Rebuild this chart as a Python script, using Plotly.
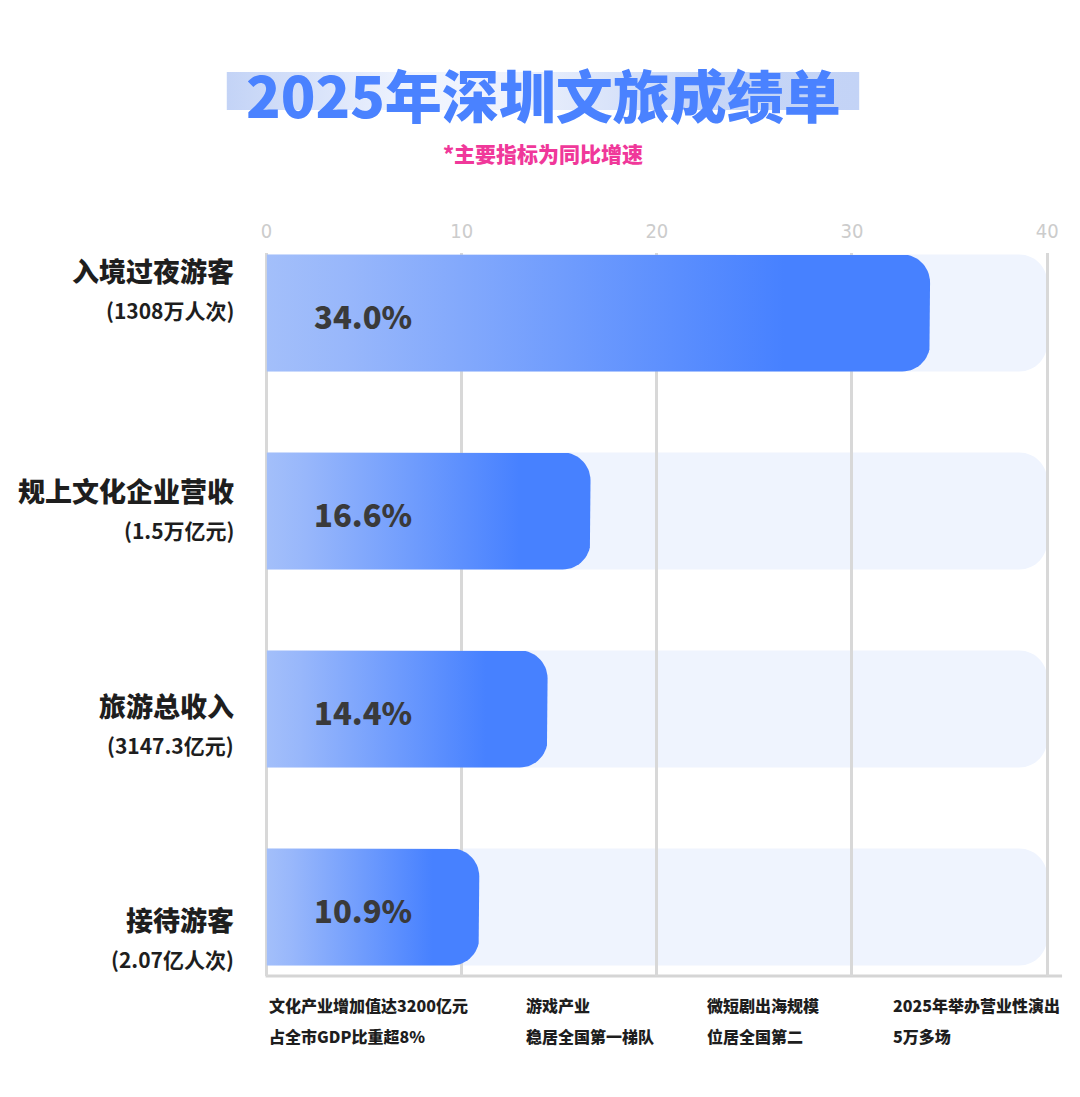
import numpy as np
import plotly.graph_objects as go

# ---------------- data ----------------
categories = ["入境过夜游客", "规上文化企业营收", "旅游总收入", "接待游客"]
sublabels = ["(1308万人次)", "(1.5万亿元)", "(3147.3亿元)", "(2.07亿人次)"]
values = [34.0, 16.6, 14.4, 10.9]
axis_max = 40
tick_vals = [0, 10, 20, 30, 40]
notes_line1 = ["文化产业增加值达3200亿元", "游戏产业", "微短剧出海规模", "2025年举办营业性演出"]
notes_line2 = ["占全市GDP比重超8%", "稳居全国第一梯队", "位居全国第二", "5万多场"]
title_text = "2025年深圳文旅成绩单"
subtitle_text = "*主要指标为同比增速"

# ---------------- layout constants (page pixels) ----------------
PAGE_W, PAGE_H = 1080, 1097
OFF = 8                                  # default body margin of the html page
W, H = PAGE_W - 2 * OFF, PAGE_H - 2 * OFF


def px(x):   # page x -> paper x
    return (x - OFF) / W


def py(y):   # page y -> paper y
    return 1 - (y - OFF) / H


PX_L, PX_R, PX_AX = 262, 1062, 1047     # plot left, plot right, position of axis_max
PY_T, PY_B = 253, 976                   # plot top / bottom
ROW = 198                               # row pitch
FIRST_C = 313                           # centre of first row
BAR_HALF_PX = 58.5
RADIUS_PX = 28

unit_x = (PX_AX - PX_L) / axis_max
xmax = (PX_R - PX_L) / unit_x
n = len(categories)
y_top = -(FIRST_C - PY_T) / ROW
y_bot = (n - 1) + (PY_B - (FIRST_C + (n - 1) * ROW)) / ROW
half = BAR_HALF_PX / ROW
rx = RADIUS_PX / unit_x
ry = RADIUS_PX / ROW

CJK = "Noto Sans CJK SC"
BLUE = "#4781FF"


def bar_points(v, yc):
    top, bot = yc - half, yc + half
    t = np.linspace(0, np.pi / 2, 16)
    xs = [0, v - rx]
    ys = [top, top]
    xs += list(v - rx + rx * np.sin(t))
    ys += list(top + ry - ry * np.cos(t))
    xs += list(v - rx + rx * np.cos(t))
    ys += list(bot - ry + ry * np.sin(t))
    xs += [0, 0]
    ys += [bot, top]
    return xs, ys


fig = go.Figure()

shapes = []
# background (track) bars as shapes below the gridlines
for i in range(n):
    xs, ys = bar_points(axis_max, i)
    path = "M " + " L ".join(f"{x:.4f},{y:.4f}" for x, y in zip(xs, ys)) + " Z"
    shapes.append(dict(type="path", xref="x", yref="y", path=path,
                       fillcolor="#EFF4FE", line=dict(width=0), layer="below"))

# bottom axis line
shapes.append(dict(type="line", xref="paper", yref="paper",
                   x0=px(PX_L - 1), x1=px(PX_R), y0=py(PY_B), y1=py(PY_B),
                   line=dict(color="#D5D5D5", width=3), layer="below"))

# gradient value bars
for i, v in enumerate(values):
    xs, ys = bar_points(v, i)
    fig.add_trace(go.Scatter(
        x=xs, y=ys, mode="lines", fill="toself",
        line=dict(width=0, color=BLUE),
        fillgradient=dict(type="horizontal",
                          colorscale=[[0, "#A3BFFA"], [0.12, "#98B7FB"],
                                      [0.78, BLUE], [1, BLUE]]),
        hoverinfo="skip", showlegend=False))

# title highlight band on a full-page overlay axis (page pixel coordinates)
bx0, bx1, by0, by1 = 222, 858, 72, 110
fig.add_trace(go.Scatter(
    x=[bx0, bx1, bx1, bx0, bx0], y=[by0, by0, by1, by1, by0],
    xaxis="x2", yaxis="y2", mode="lines", fill="toself",
    line=dict(width=0, color="#C3D3F6"),
    fillgradient=dict(type="horizontal",
                      colorscale=[[0, "#C3D3F6"], [0.3, "#F1F5FE"], [0.45, "#EEF2FD"],
                                  [0.75, "#C6D6F7"], [1, "#C3D3F6"]]),
    hoverinfo="skip", showlegend=False))

annotations = []
# title + subtitle
annotations.append(dict(text=title_text, xref="paper", yref="paper", x=px(541), y=py(93),
                        xanchor="center", yanchor="middle", showarrow=False,
                        font=dict(family=CJK, size=57, color="#4A82FF", weight=900)))
annotations.append(dict(text=subtitle_text, xref="paper", yref="paper", x=px(540), y=py(153),
                        xanchor="center", yanchor="middle", showarrow=False,
                        font=dict(family=CJK, size=21, color="#F0389A", weight=900)))

# category labels
label_shift = [-43, -21, -4, 12]
for i in range(n):
    annotations.append(dict(text=categories[i], xref="paper", yref="y", x=px(231), y=i,
                            xanchor="right", yanchor="middle", yshift=-label_shift[i],
                            showarrow=False,
                            font=dict(family=CJK, size=27, color="#1E1E1E", weight=900)))
    annotations.append(dict(text=sublabels[i], xref="paper", yref="y", x=px(231), y=i,
                            xanchor="right", yanchor="middle", yshift=-(label_shift[i] + 40),
                            showarrow=False,
                            font=dict(family=CJK, size=21, color="#1E1E1E", weight=700)))
    annotations.append(dict(text=f"{values[i]:.1f}%", xref="x", yref="y", x=4.95, y=i,
                            xanchor="center", yanchor="middle", yshift=-2, showarrow=False,
                            font=dict(family=CJK, size=31, color="#3A3A3A", weight=900)))

# footer notes
note_x = [262, 521, 703, 890]
for j in range(len(note_x)):
    annotations.append(dict(text=notes_line1[j], xref="paper", yref="paper", x=px(note_x[j]),
                            y=py(1005), xanchor="left", yanchor="middle", showarrow=False,
                            font=dict(family=CJK, size=16, color="#1E1E1E", weight=900)))
    annotations.append(dict(text=notes_line2[j], xref="paper", yref="paper", x=px(note_x[j]),
                            y=py(1036), xanchor="left", yanchor="middle", showarrow=False,
                            font=dict(family=CJK, size=16, color="#1E1E1E", weight=900)))

fig.update_layout(
    width=W, height=H,
    margin=dict(l=0, r=0, t=0, b=0),
    paper_bgcolor="white", plot_bgcolor="rgba(0,0,0,0)",
    showlegend=False,
    xaxis=dict(domain=[px(PX_L), px(PX_R)], range=[0, xmax], side="top",
               tickmode="array", tickvals=tick_vals, ticks="", ticklabelstandoff=10,
               tickfont=dict(family="DejaVu Sans Condensed, Roboto, sans-serif", size=20, color="#CCCCCC"),
               showgrid=True, gridcolor="#D8D8D8", gridwidth=3,
               zeroline=True, zerolinecolor="#D8D8D8", zerolinewidth=3,
               showline=False, fixedrange=True, anchor="y"),
    yaxis=dict(domain=[py(PY_B), py(PY_T)], range=[y_bot, y_top],
               visible=False, showgrid=False, zeroline=False, fixedrange=True, anchor="x"),
    xaxis2=dict(domain=[0, 1], range=[OFF, OFF + W], visible=False, fixedrange=True, anchor="y2"),
    yaxis2=dict(domain=[0, 1], range=[OFF + H, OFF], visible=False, fixedrange=True, anchor="x2"),
    shapes=shapes,
    annotations=annotations,
)

fig.write_html("out.html")
